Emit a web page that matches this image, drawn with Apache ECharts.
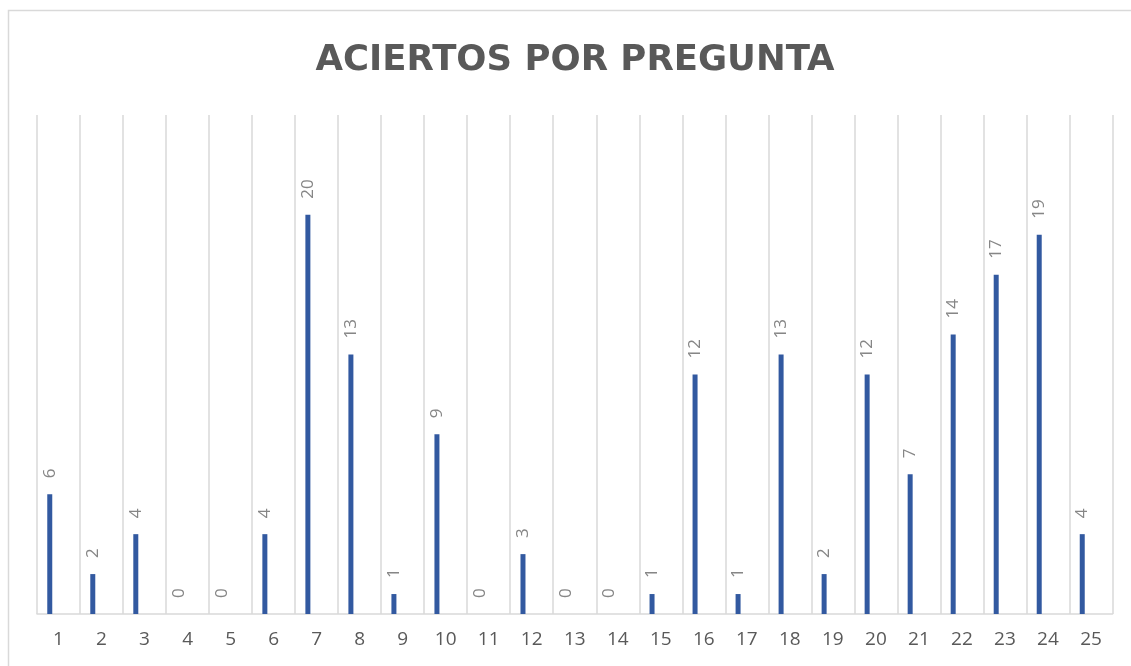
<!DOCTYPE html>
<html>
<head>
<meta charset="utf-8">
<script src="https://cdn.jsdelivr.net/npm/echarts@6/dist/echarts.min.js"></script>
<style>
  html, body { margin: 0; padding: 0; background: #ffffff; }
  #chart { width: 1131px; height: 666px; }
</style>
</head>
<body>
<div id="chart"></div>
<script>
// Aciertos por pregunta
const titleText = 'ACIERTOS POR PREGUNTA';
const preguntas = ['1','2','3','4','5','6','7','8','9','10','11','12','13','14','15','16','17','18','19','20','21','22','23','24','25'];
const aciertos = [6, 2, 4, 0, 0, 4, 20, 13, 1, 9, 0, 3, 0, 0, 1, 12, 1, 13, 2, 12, 7, 14, 17, 19, 4];

const chart = echarts.init(document.getElementById('chart'), null, { renderer: 'canvas' });

chart.setOption({
  animation: false,
  backgroundColor: '#ffffff',
  title: {
    text: titleText,
    left: 570,
    textAlign: 'center',
    top: 38,
    textStyle: {
      fontFamily: 'DejaVu Sans',
      fontWeight: 'bold',
      fontSize: 35.5,
      color: '#595959'
    }
  },
  graphic: [{
    type: 'rect',
    shape: { x: 8.5, y: 10.5, width: 1140, height: 680 },
    style: { fill: 'none', stroke: '#d9d9d9', lineWidth: 1.5 },
    silent: true
  }],
  grid: { left: 37, right: 18.5, top: 115, bottom: 52 },
  xAxis: {
    type: 'category',
    data: preguntas,
    boundaryGap: true,
    axisLine: { show: true, lineStyle: { color: '#d9d9d9', width: 1.5 } },
    axisTick: { show: false },
    axisLabel: {
      color: '#595959',
      fontFamily: 'Open Sans',
      fontSize: 19,
      margin: 16,
      interval: 0
    },
    splitLine: { show: true, lineStyle: { color: '#d9d9d9', width: 1.5 } }
  },
  yAxis: {
    type: 'value',
    min: 0,
    max: 25,
    interval: 5,
    show: false,
    splitLine: { show: false }
  },
  series: [
    {
      type: 'bar',
      data: aciertos,
      barWidth: 5,
      barGap: '250%',
      itemStyle: { color: '#3259a0' },
      label: {
        show: true,
        position: 'top',
        rotate: 90,
        align: 'left',
        verticalAlign: 'middle',
        distance: 16,
        color: '#868686',
        fontFamily: 'Open Sans',
        fontSize: 17
      }
    },
    {
      type: 'bar',
      data: [],
      barWidth: 5
    }
  ]
});
</script>
</body>
</html>
